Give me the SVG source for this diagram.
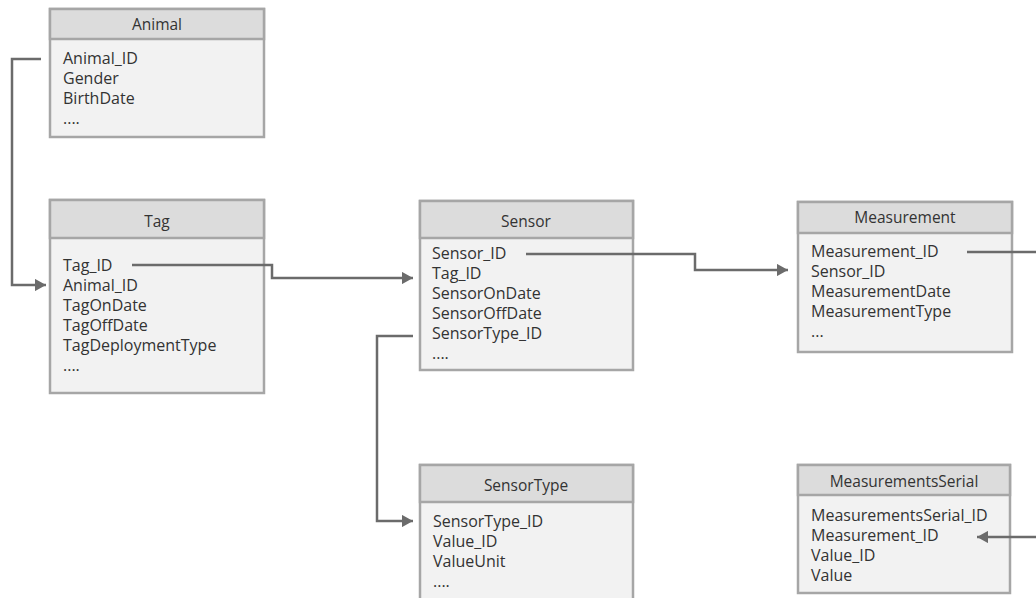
<svg xmlns="http://www.w3.org/2000/svg" width="1036" height="598" viewBox="0 0 1036 598">
  <style>
    .box { fill: #f2f2f2; stroke: #a6a6a6; stroke-width: 2.5; }
    .hdr { fill: #dcdcdc; stroke: #a6a6a6; stroke-width: 2.5; }
    .title { font-family: "Open Sans", "Noto Sans", sans-serif; font-size: 15.5px; fill: #333333; text-anchor: middle; }
    .field { font-family: "Open Sans", "Noto Sans", sans-serif; font-size: 16px; fill: #333333; }
    .link { fill: none; stroke: #6b6b6b; stroke-width: 2.5; }
  </style>
  <defs>
    <marker id="arrow" viewBox="0 0 9 10" refX="9" refY="5" markerWidth="4.5" markerHeight="5" markerUnits="strokeWidth" orient="auto">
      <path d="M0,0 L9,5 L0,10 z" fill="#6b6b6b"/>
    </marker>
  </defs>

  <rect width="1036" height="598" fill="#ffffff"/>

  <g id="animal">
    <rect class="box" x="50" y="9" width="214" height="128"/>
    <rect class="hdr" x="50" y="9" width="214" height="30"/>
    <text class="title" x="157" y="30">Animal</text>
    <text class="field" x="63" y="64">Animal_ID</text>
    <text class="field" x="63" y="84">Gender</text>
    <text class="field" x="63" y="104">BirthDate</text>
    <text class="field" x="63" y="124">....</text>
  </g>

  <g id="tag">
    <rect class="box" x="50" y="200" width="214" height="193"/>
    <rect class="hdr" x="50" y="200" width="214" height="38"/>
    <text class="title" x="157" y="227">Tag</text>
    <text class="field" x="63" y="271">Tag_ID</text>
    <text class="field" x="63" y="291">Animal_ID</text>
    <text class="field" x="63" y="311">TagOnDate</text>
    <text class="field" x="63" y="331">TagOffDate</text>
    <text class="field" x="63" y="351">TagDeploymentType</text>
    <text class="field" x="63" y="371">....</text>
  </g>

  <g id="sensor">
    <rect class="box" x="420" y="201" width="213" height="169"/>
    <rect class="hdr" x="420" y="201" width="213" height="37"/>
    <text class="title" x="526" y="227">Sensor</text>
    <text class="field" x="432" y="259">Sensor_ID</text>
    <text class="field" x="432" y="279">Tag_ID</text>
    <text class="field" x="432" y="299">SensorOnDate</text>
    <text class="field" x="432" y="319">SensorOffDate</text>
    <text class="field" x="432" y="339">SensorType_ID</text>
    <text class="field" x="432" y="359">....</text>
  </g>

  <g id="measurement">
    <rect class="box" x="798" y="202" width="214" height="150"/>
    <rect class="hdr" x="798" y="202" width="214" height="31"/>
    <text class="title" x="905" y="223">Measurement</text>
    <text class="field" x="811" y="257">Measurement_ID</text>
    <text class="field" x="811" y="277">Sensor_ID</text>
    <text class="field" x="811" y="297">MeasurementDate</text>
    <text class="field" x="811" y="317">MeasurementType</text>
    <text class="field" x="811" y="337">...</text>
  </g>

  <g id="sensortype">
    <rect class="box" x="420" y="465" width="213" height="145"/>
    <rect class="hdr" x="420" y="465" width="213" height="37"/>
    <text class="title" x="526" y="491">SensorType</text>
    <text class="field" x="433" y="527">SensorType_ID</text>
    <text class="field" x="433" y="547">Value_ID</text>
    <text class="field" x="433" y="567">ValueUnit</text>
    <text class="field" x="433" y="587">....</text>
  </g>

  <g id="measurementsserial">
    <rect class="box" x="798" y="465" width="212" height="128"/>
    <rect class="hdr" x="798" y="465" width="212" height="30"/>
    <text class="title" x="904" y="487">MeasurementsSerial</text>
    <text class="field" x="811" y="521">MeasurementsSerial_ID</text>
    <text class="field" x="811" y="541">Measurement_ID</text>
    <text class="field" x="811" y="561">Value_ID</text>
    <text class="field" x="811" y="581">Value</text>
  </g>

  <g id="connectors">
    <!-- Animal.Animal_ID -> Tag.Animal_ID -->
    <path class="link" d="M41,59 H12 V285 H46" marker-end="url(#arrow)"/>
    <!-- Tag.Tag_ID -> Sensor.Tag_ID -->
    <path class="link" d="M132,265 H272 V278 H413" marker-end="url(#arrow)"/>
    <!-- Sensor.Sensor_ID -> Measurement.Sensor_ID -->
    <path class="link" d="M526,254 H695 V270 H788" marker-end="url(#arrow)"/>
    <!-- Sensor.SensorType_ID -> SensorType.SensorType_ID -->
    <path class="link" d="M413,336 H377 V521 H413" marker-end="url(#arrow)"/>
    <!-- Measurement.Measurement_ID -> MeasurementsSerial.Measurement_ID -->
    <path class="link" d="M967,252 H1048 V537 H977" marker-end="url(#arrow)"/>
  </g>
</svg>
